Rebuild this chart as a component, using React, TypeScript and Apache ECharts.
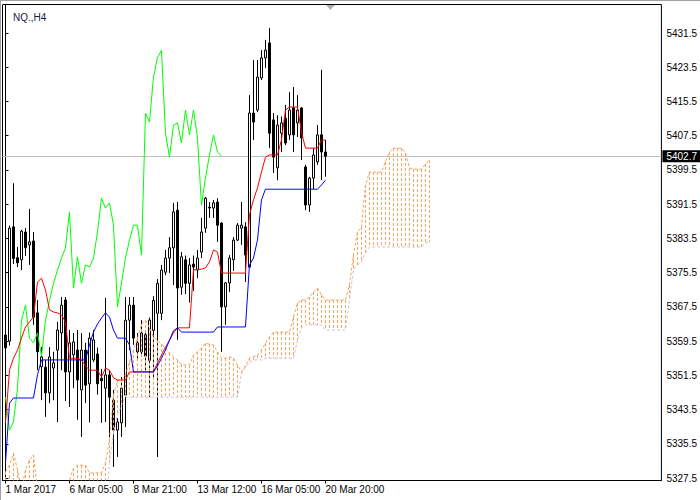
import React, { useEffect, useRef } from 'react';
import * as echarts from 'echarts';

const symbolTitle = 'NQ.,H4';
const xTickBars = [0, 16, 32, 48, 64, 80];
const xTickLabels = ['1 Mar 2017', '6 Mar 05:00', '8 Mar 21:00', '13 Mar 12:00', '16 Mar 05:00', '20 Mar 20:00'];
const yTicks = [5327.5, 5335.5, 5343.5, 5351.5, 5359.5, 5367.5, 5375.5, 5383.5, 5391.5, 5399.5, 5407.5, 5415.5, 5423.5, 5431.5];

// [open, close, low, high]
const candles: number[][] = [
  [5360.9, 5357.9, 5351.1, 5365.1], [5359.5, 5385.9, 5358.5, 5386.5], [5386.2, 5378.8, 5377.5, 5396.4], [5379.0, 5377.8, 5376.8, 5381.5],
  [5378.5, 5385.2, 5376.1, 5385.5], [5385.0, 5381.3, 5379.4, 5385.9], [5382.0, 5382.7, 5377.3, 5390.4], [5382.9, 5365.1, 5363.3, 5385.0],
  [5366.1, 5357.0, 5352.7, 5369.1], [5353.5, 5355.8, 5345.7, 5358.1], [5353.4, 5347.4, 5341.8, 5355.1], [5347.4, 5355.8, 5345.0, 5358.1],
  [5353.2, 5354.4, 5345.7, 5357.0], [5357.4, 5362.1, 5340.6, 5364.0], [5361.4, 5367.9, 5352.7, 5369.8], [5369.1, 5352.3, 5345.5, 5369.8],
  [5352.3, 5359.1, 5344.1, 5362.1], [5356.3, 5359.3, 5348.5, 5361.4], [5357.4, 5350.4, 5341.1, 5362.1], [5348.1, 5357.4, 5337.1, 5361.4],
  [5357.4, 5349.2, 5345.0, 5359.1], [5349.5, 5360.2, 5340.5, 5361.5], [5355.1, 5359.8, 5354.6, 5362.1], [5356.5, 5349.5, 5347.0, 5358.0],
  [5350.8, 5350.2, 5340.4, 5353.0], [5348.5, 5351.6, 5340.6, 5369.6], [5351.6, 5346.4, 5337.1, 5352.7], [5345.7, 5338.7, 5330.1, 5348.1],
  [5338.7, 5340.6, 5332.4, 5341.5], [5340.4, 5348.5, 5337.1, 5351.1], [5346.9, 5364.4, 5339.4, 5369.8], [5364.4, 5367.9, 5357.4, 5369.8],
  [5367.9, 5360.2, 5358.6, 5369.8], [5357.0, 5359.1, 5355.1, 5361.4], [5357.0, 5361.4, 5355.8, 5364.4], [5361.0, 5356.0, 5352.5, 5362.0],
  [5355.0, 5364.4, 5346.4, 5365.0], [5362.0, 5369.0, 5350.8, 5370.0], [5366.0, 5373.0, 5332.4, 5374.0], [5366.0, 5376.1, 5364.4, 5377.3],
  [5375.6, 5378.9, 5374.9, 5380.8], [5378.9, 5381.3, 5375.4, 5383.8], [5381.3, 5389.7, 5372.6, 5391.8], [5390.1, 5371.9, 5359.8, 5392.0],
  [5372.1, 5379.2, 5370.3, 5380.3], [5378.5, 5373.0, 5370.5, 5379.5], [5373.0, 5377.3, 5368.5, 5378.9], [5377.5, 5376.8, 5371.2, 5379.5],
  [5376.1, 5378.9, 5374.2, 5380.8], [5380.3, 5385.0, 5378.9, 5388.3], [5385.9, 5392.9, 5384.8, 5393.2], [5390.8, 5390.6, 5388.3, 5392.0],
  [5390.6, 5391.8, 5388.3, 5392.5], [5392.0, 5386.6, 5382.7, 5392.9], [5387.1, 5367.5, 5357.0, 5387.3], [5367.5, 5373.1, 5363.3, 5373.3],
  [5373.1, 5378.9, 5371.0, 5379.6], [5378.5, 5383.1, 5375.9, 5383.8], [5383.1, 5386.6, 5382.9, 5387.1], [5385.9, 5386.6, 5382.0, 5392.0],
  [5386.2, 5379.6, 5373.3, 5387.3], [5376.8, 5412.8, 5376.6, 5417.0], [5412.8, 5410.7, 5406.5, 5425.2], [5413.5, 5421.2, 5413.0, 5425.2],
  [5421.0, 5425.7, 5420.5, 5427.5], [5425.7, 5427.5, 5423.3, 5429.9], [5429.2, 5408.1, 5404.6, 5432.7], [5411.2, 5402.5, 5398.8, 5412.8],
  [5400.0, 5410.0, 5397.1, 5412.3], [5408.1, 5410.5, 5403.7, 5412.0], [5411.6, 5405.8, 5405.3, 5414.7], [5407.7, 5413.5, 5406.5, 5417.7],
  [5414.0, 5407.7, 5403.7, 5418.9], [5410.5, 5413.5, 5407.2, 5417.0], [5414.0, 5407.0, 5401.8, 5414.2], [5400.2, 5391.3, 5390.1, 5400.7],
  [5391.3, 5397.6, 5389.7, 5397.9], [5397.6, 5403.0, 5395.0, 5404.6], [5401.4, 5407.7, 5400.7, 5410.0], [5407.7, 5403.7, 5397.1, 5422.9],
  [5403.7, 5402.7, 5397.9, 5406.5],
];

const tenkan = [
  5340.4, 5352.7, 5355.5, 5357.4, 5360.2, 5362.8, 5364.0, 5365.1, 5373.3, 5374.2,
  5371.4, 5366.8, 5366.3, 5366.1, 5365.6, 5364.0, 5355.5, 5355.5, 5355.5, 5355.1,
  5353.7, 5352.7, 5352.7, 5352.7, 5351.1, 5353.2, 5352.7, 5350.9, 5350.4, 5350.4,
  5350.4, 5352.3, 5352.3, 5352.3, 5352.3, 5352.3, 5352.3, 5352.3, 5354.4, 5356.2,
  5358.1, 5359.7, 5361.4, 5362.6, 5362.6, 5362.6, 5362.6, 5376.1, 5376.3, 5376.3,
  5376.6, 5378.0, 5380.8, 5380.3, 5375.4, 5375.4, 5375.4, 5375.4, 5375.4, 5375.4,
  5375.4, 5389.0, 5392.5, 5395.3, 5399.0, 5402.5, 5403.0, 5403.0, 5403.0, 5406.5,
  5413.5, 5414.2, 5414.2, 5414.2, 5408.4, 5404.6, 5404.6, 5404.6, 5404.6, 5406.5,
  5406.5,
];

const kijun = [
  5331.0, 5345.0, 5346.2, 5346.2, 5346.2, 5346.2, 5346.2, 5346.2, 5351.6, 5355.1,
  5355.1, 5355.1, 5355.1, 5355.1, 5355.1, 5355.1, 5355.1, 5355.1, 5355.1, 5355.1,
  5355.1, 5358.6, 5361.6, 5363.5, 5364.9, 5366.1, 5365.1, 5362.1, 5360.2, 5360.2,
  5360.2, 5358.6, 5352.3, 5352.3, 5352.3, 5352.3, 5352.3, 5352.3, 5353.7, 5355.5,
  5357.4, 5359.7, 5361.9, 5362.6, 5361.6, 5361.6, 5361.6, 5361.6, 5361.6, 5361.6,
  5361.6, 5361.6, 5361.6, 5362.8, 5362.8, 5362.8, 5362.8, 5362.8, 5362.8, 5362.8,
  5362.8, 5377.3, 5378.9, 5383.1, 5392.5, 5395.0, 5395.0, 5395.0, 5395.0, 5395.0,
  5395.0, 5395.0, 5395.0, 5395.0, 5395.0, 5395.0, 5395.0, 5395.0, 5395.0, 5396.0,
  5397.1,
];

const spanA = [
  5328.9, 5330.5, 5333.3, 5329.4, 5324.7, 5329.4, 5331.7, 5332.9, 5324.7, 5323.5,
  5323.5, 5323.5, 5323.5, 5323.5, 5323.5, 5324.7, 5327.0, 5329.8, 5330.5, 5330.5,
  5330.5, 5328.7, 5328.7, 5328.7, 5328.7, 5331.0, 5336.4, 5346.9, 5350.4, 5350.4,
  5351.6, 5354.6, 5357.4, 5360.2, 5363.5, 5364.4, 5362.6, 5360.5, 5359.7, 5358.8,
  5357.9, 5356.7, 5355.8, 5355.1, 5354.1, 5353.9, 5353.9, 5356.2, 5357.0, 5357.9,
  5359.0, 5358.8, 5358.6, 5357.0, 5355.5, 5355.5, 5355.8, 5355.5, 5353.9, 5352.3,
  5353.7, 5355.5, 5355.8, 5356.2, 5357.4, 5359.0, 5360.5, 5361.6, 5361.6, 5361.6,
  5361.6, 5361.6, 5365.1, 5368.4, 5369.1, 5369.1, 5369.8, 5371.0, 5371.9, 5370.3,
  5369.1, 5369.1, 5369.1, 5369.1, 5369.1, 5369.1, 5372.6, 5379.6, 5385.0, 5386.2,
  5396.0, 5399.0, 5399.0, 5399.0, 5399.0, 5401.4, 5403.7, 5404.6, 5404.6, 5404.6,
  5403.5, 5400.0, 5399.7, 5399.7, 5399.7, 5400.9, 5401.8,
];

const spanB = [
  5319.0, 5319.0, 5319.0, 5319.0, 5319.0, 5319.0, 5319.0, 5319.0, 5319.0, 5319.0,
  5319.0, 5319.0, 5319.0, 5319.0, 5319.0, 5319.0, 5319.0, 5319.0, 5319.0, 5319.0,
  5319.0, 5319.0, 5319.0, 5319.0, 5319.0, 5319.0, 5331.0, 5338.0, 5342.2, 5344.6,
  5346.4, 5346.4, 5346.4, 5346.4, 5346.4, 5346.4, 5346.4, 5346.4, 5346.4, 5346.4,
  5346.4, 5346.4, 5346.4, 5346.4, 5346.4, 5346.4, 5346.4, 5346.4, 5346.4, 5346.4,
  5346.4, 5346.4, 5346.4, 5346.4, 5346.4, 5346.4, 5346.4, 5346.4, 5346.4, 5352.0,
  5353.4, 5354.4, 5355.1, 5355.1, 5355.1, 5355.5, 5355.5, 5355.5, 5355.5, 5355.5,
  5355.5, 5355.5, 5355.5, 5359.7, 5362.6, 5363.3, 5363.3, 5363.3, 5363.3, 5363.3,
  5362.1, 5362.1, 5362.1, 5362.1, 5362.1, 5362.1, 5369.1, 5376.1, 5377.3, 5378.0,
  5380.1, 5381.5, 5381.5, 5381.5, 5381.5, 5381.5, 5381.5, 5381.5, 5381.5, 5381.5,
  5381.5, 5381.5, 5381.5, 5381.5, 5381.5, 5382.4, 5382.7,
];

const chikouShift = 26;

const FONT = 'Tahoma, "Liberation Sans", Arial, sans-serif';
const SANDY = '#F4A460';
const THISTLE = '#D8BFD8';

export default function App() {
  const ref = useRef<HTMLDivElement>(null);
  useEffect(() => {
    document.body.style.margin = '0';
    if (!ref.current) return;
    const chart = echarts.init(ref.current, undefined, { renderer: 'svg' });
    const closes = candles.map((c) => c[1]);
    const lastClose = closes[closes.length - 1];
    const candleData = candles.map((c, i) => [i, c[0], c[1], c[2], c[3]]);
    const chikouData = closes.slice(chikouShift).map((c, i) => [i, c]);
    const cloudData = spanA.map((a, i) => [i, a, spanB[i]]);

    const option: any = {
      animation: false,
      backgroundColor: '#ffffff',
      title: {
        text: symbolTitle,
        left: 8,
        top: 7,
        textStyle: { fontSize: 10, fontWeight: 'normal', color: '#1a1a40', fontFamily: FONT },
      },
      graphic: [
        { type: 'rect', shape: { x: 0, y: 0, width: 700, height: 1 }, style: { fill: '#a0a0a0' }, silent: true },
        { type: 'rect', shape: { x: 0, y: 0, width: 1, height: 500 }, style: { fill: '#a0a0a0' }, silent: true },
        { type: 'polygon', shape: { points: [[326, 5], [335, 5], [330.5, 10]] }, style: { fill: '#b0b0b0' }, silent: true },
      ],
      grid: {
        left: 2.5, right: 38.5, top: 4.5, bottom: 19.5,
        show: true, borderColor: '#000', borderWidth: 1, backgroundColor: '#fff',
      },
      xAxis: {
        type: 'value', min: -0.75, max: 164,
        splitLine: { show: false },
        axisLine: { show: true, onZero: false, lineStyle: { color: '#000', width: 1 } },
        axisTick: { show: true, customValues: xTickBars, length: 3, lineStyle: { color: '#000' } },
        axisLabel: {
          show: true, customValues: xTickBars, align: 'left', margin: 4,
          fontSize: 10, color: '#000', fontFamily: FONT,
          formatter: (v: number) => { const k = xTickBars.indexOf(Math.round(v)); return k >= 0 ? xTickLabels[k] : ''; },
        },
      },
      yAxis: {
        type: 'value', position: 'right', min: 5326.92, max: 5438.17, scale: true,
        splitLine: { show: false },
        axisLine: { show: true, lineStyle: { color: '#000', width: 1 } },
        axisTick: { show: true, customValues: yTicks, length: 3, lineStyle: { color: '#000' } },
        axisLabel: {
          show: true, customValues: yTicks, margin: 5, fontSize: 10, color: '#000', fontFamily: FONT,
          formatter: (v: number) => v.toFixed(1),
        },
      },
      series: [
        {
          type: 'candlestick', data: candleData, encode: { x: 0, y: [1, 2, 3, 4] },
          barWidth: 3, z: 2, silent: true,
          itemStyle: { color: '#ffffff', color0: '#000000', borderColor: '#000000', borderColor0: '#000000', borderWidth: 1 },
          markLine: {
            silent: true, symbol: ['none', 'none'], animation: false, z: 1,
            data: [{ yAxis: lastClose }],
            lineStyle: { color: '#C0C0C0', type: 'solid', width: 1 },
            label: {
              show: true, position: 'end', distance: 1, formatter: lastClose.toFixed(1),
              color: '#fff', backgroundColor: '#000', padding: [1, 6, 1, 4], fontSize: 10, fontFamily: FONT,
            },
          },
        },
        {
          type: 'custom', data: cloudData, encode: { x: 0, y: [1, 2] }, z: 3, silent: true,
          renderItem: (params: any, api: any) => {
            const a = api.value(1);
            const b = api.value(2);
            const pa = api.coord([api.value(0), a]);
            const pb = api.coord([api.value(0), b]);
            const cs = params.coordSys;
            const top = Math.max(Math.min(pa[1], pb[1]), cs.y);
            const bot = Math.min(Math.max(pa[1], pb[1]), cs.y + cs.height);
            if (bot <= top) return null;
            return {
              type: 'line',
              shape: { x1: pa[0], y1: top, x2: pa[0], y2: bot },
              style: { stroke: a >= b ? SANDY : THISTLE, lineWidth: 1, lineDash: [3, 2] },
            };
          },
        },
        {
          type: 'line', data: spanA.map((v, i) => [i, v]), symbol: 'none', z: 4, silent: true,
          lineStyle: { color: SANDY, width: 1, type: [3, 2] },
        },
        {
          type: 'line', data: spanB.map((v, i) => [i, v]), symbol: 'none', z: 4, silent: true,
          lineStyle: { color: THISTLE, width: 1, type: [3, 2] },
        },
        {
          type: 'line', data: chikouData, symbol: 'none', z: 5, silent: true,
          lineStyle: { color: '#00FF00', width: 1 },
        },
        {
          type: 'line', data: tenkan.map((v, i) => [i, v]), symbol: 'none', z: 6, silent: true,
          lineStyle: { color: '#FF0000', width: 1 },
        },
        {
          type: 'line', data: kijun.map((v, i) => [i, v]), symbol: 'none', z: 6, silent: true,
          lineStyle: { color: '#0000FF', width: 1 },
        },
      ],
    };
    chart.setOption(option);
    return () => chart.dispose();
  }, []);
  return <div ref={ref} style={{ width: 700, height: 500 }} />;
}
